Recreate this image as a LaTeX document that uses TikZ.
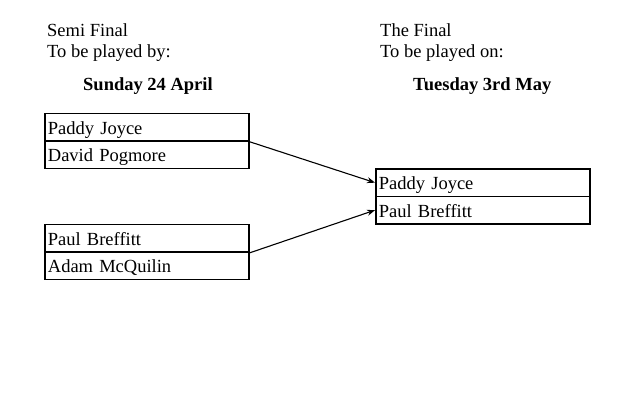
\documentclass[tikz,border=0pt]{standalone}
\usepackage{fontspec}
\setmainfont{Liberation Serif}
\usetikzlibrary{arrows.meta}
\begin{document}
\begin{tikzpicture}[x=1pt,y=-1pt,
  every node/.style={font=\fontsize{18.5}{22}\selectfont},
  head/.style={anchor=base west,inner sep=0pt},
  cell/.style={draw=black,line width=1.8pt,anchor=north west,minimum height=27.5pt,
    text width=198pt,inner xsep=3pt,inner ysep=0pt,align=left,
    text height=14pt,text depth=0pt},
  fcell/.style={cell,text width=208pt},
  link/.style={line width=1.1pt,-{Stealth[length=8pt,width=6pt]}}]
\useasboundingbox (0,0) rectangle (640,400);
% headings
\node[head] (h1) at (47,36) {Semi Final};
\node[head] (h2) at (47,57) {To be played by:};
\node[head,font=\fontsize{18.5}{22}\selectfont\bfseries] (h3) at (83,90) {Sunday 24 April};
\node[head] (h4) at (380,36) {The Final};
\node[head] (h5) at (380,57) {To be played on:};
\node[head,font=\fontsize{18.5}{22}\selectfont\bfseries] (h6) at (413,90) {Tuesday 3rd May};
% semi-final boxes
\node[cell] (a1) at (44,112.5) {Paddy Joyce};
\node[cell] (a2) at (44,140) {David Pogmore};
\node[cell] (b1) at (44,223.5) {Paul Breffitt};
\node[cell] (b2) at (44,251) {Adam McQuilin};
% final boxes
\node[fcell] (f1) at (375,168) {Paddy Joyce};
\node[fcell] (f2) at (375,195.5) {Paul Breffitt};
% connectors
\draw[link] (a1.south east) -- (f1.west);
\draw[link] (b1.south east) -- (f2.west);
\end{tikzpicture}
\end{document}
